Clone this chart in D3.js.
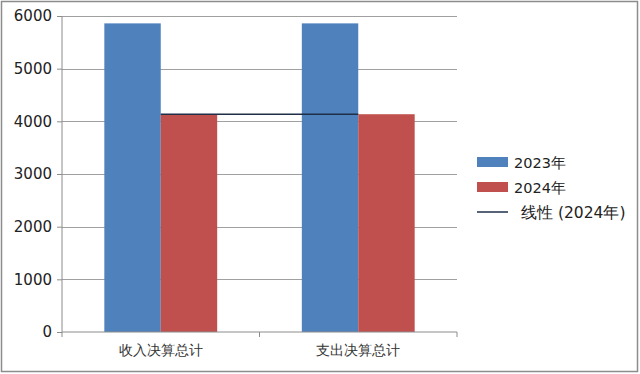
<!DOCTYPE html>
<html>
<head>
<meta charset="utf-8">
<script src="https://cdn.jsdelivr.net/npm/d3@7"></script>
<style>
  body { margin: 0; background: #fff; }
  svg { display: block; }
  text { font-family: "DejaVu Sans", sans-serif; }
</style>
</head>
<body>
<svg id="chart" width="640" height="374"></svg>
<script>
// data
var categories = ["收入决算总计", "支出决算总计"];
var seriesNames = ["2023年", "2024年"];
var values2023 = [5860, 5860];
var values2024 = [4135, 4135];
var yTicks = [0, 1000, 2000, 3000, 4000, 5000, 6000];
var trendLabel = "线性 (2024年)";

var colors = ["#4f81bd", "#c0504d"];

var svg = d3.select("#chart");

// outer frame
svg.append("rect")
    .attr("x", 1.5).attr("y", 1.5)
    .attr("width", 636).attr("height", 370)
    .attr("fill", "#fff")
    .attr("stroke", "#8c8c8c")
    .attr("stroke-width", 1.5);

var plotLeft = 62, plotRight = 457, plotTop = 16, plotBottom = 332;

var x = d3.scaleBand()
    .domain(categories)
    .range([plotLeft, plotRight]);

var xInner = d3.scaleBand()
    .domain(seriesNames)
    .range([0, x.bandwidth()])
    .paddingOuter(0.75);

var y = d3.scaleLinear()
    .domain([0, 6000])
    .range([plotBottom, plotTop]);

// gridlines
svg.append("g")
    .selectAll("line")
    .data(yTicks.slice(1))
    .enter().append("line")
    .attr("x1", plotLeft).attr("x2", plotRight)
    .attr("y1", function(d) { return Math.round(y(d)) + 0.5; })
    .attr("y2", function(d) { return Math.round(y(d)) + 0.5; })
    .attr("stroke", "#a0a0a0")
    .attr("stroke-width", 1);

// bars
var rows = categories.map(function(c, i) {
    return { cat: c, vals: [values2023[i], values2024[i]] };
});

var groups = svg.append("g")
    .selectAll("g")
    .data(rows)
    .enter().append("g")
    .attr("transform", function(d) { return "translate(" + x(d.cat) + ",0)"; });

groups.selectAll("rect")
    .data(function(d) {
        return d.vals.map(function(v, j) { return { name: seriesNames[j], value: v, j: j }; });
    })
    .enter().append("rect")
    .attr("x", function(d) { return xInner(d.name); })
    .attr("width", xInner.bandwidth())
    .attr("y", function(d) { return y(d.value); })
    .attr("height", function(d) { return plotBottom - y(d.value); })
    .attr("fill", function(d) { return colors[d.j]; });

// linear trend of 2024 series (two points -> straight line through them)
var trendPts = categories.map(function(c, i) {
    return [x(c) + x.bandwidth() / 2, y(values2024[i])];
});
svg.append("path")
    .attr("d", d3.line()(trendPts))
    .attr("fill", "none")
    .attr("stroke", "#1f2f48")
    .attr("stroke-width", 1.5);

// y axis
var yAxis = svg.append("g")
    .attr("transform", "translate(" + plotLeft + ",0)")
    .call(d3.axisLeft(y).tickValues(yTicks).tickSize(5).tickPadding(5).tickFormat(d3.format("d")));
yAxis.select(".domain").attr("stroke", "#8c8c8c").attr("d", "M0," + plotTop + "V" + plotBottom);
yAxis.selectAll(".tick line").attr("stroke", "#8c8c8c");
yAxis.selectAll("text")
    .attr("font-size", 15)
    .attr("fill", "#222")
    .attr("font-family", "DejaVu Sans, sans-serif");

// x axis
var xAxis = svg.append("g")
    .attr("transform", "translate(0," + plotBottom + ")")
    .call(d3.axisBottom(x).tickSize(0).tickPadding(13));
xAxis.select(".domain").attr("stroke", "#8c8c8c").attr("d", "M" + plotLeft + ",5V0H" + plotRight + "V5");
xAxis.selectAll("text")
    .attr("font-size", 14)
    .attr("fill", "#333")
    .attr("font-family", "Noto Sans CJK SC, sans-serif");
// middle separator tick
xAxis.append("line")
    .attr("x1", x(categories[1])).attr("x2", x(categories[1]))
    .attr("y1", 0).attr("y2", 5)
    .attr("stroke", "#8c8c8c");

// legend
var legend = svg.append("g").attr("transform", "translate(477,157)");
seriesNames.forEach(function(name, i) {
    var g = legend.append("g").attr("transform", "translate(0," + (i * 25) + ")");
    g.append("rect")
        .attr("width", 31).attr("height", 10)
        .attr("fill", colors[i]);
    g.append("text")
        .attr("x", 37).attr("y", 11)
        .attr("font-size", 14.5)
        .attr("fill", "#222")
        .text(name);
});
var lg = legend.append("g").attr("transform", "translate(0,50)");
lg.append("line")
    .attr("x1", 0).attr("x2", 31)
    .attr("y1", 5).attr("y2", 5)
    .attr("stroke", "#1f2f48").attr("stroke-width", 1.5);
lg.append("text")
    .attr("x", 44).attr("y", 11)
    .attr("font-size", 15.5)
    .attr("fill", "#222")
    .text(trendLabel);
</script>
</body>
</html>
